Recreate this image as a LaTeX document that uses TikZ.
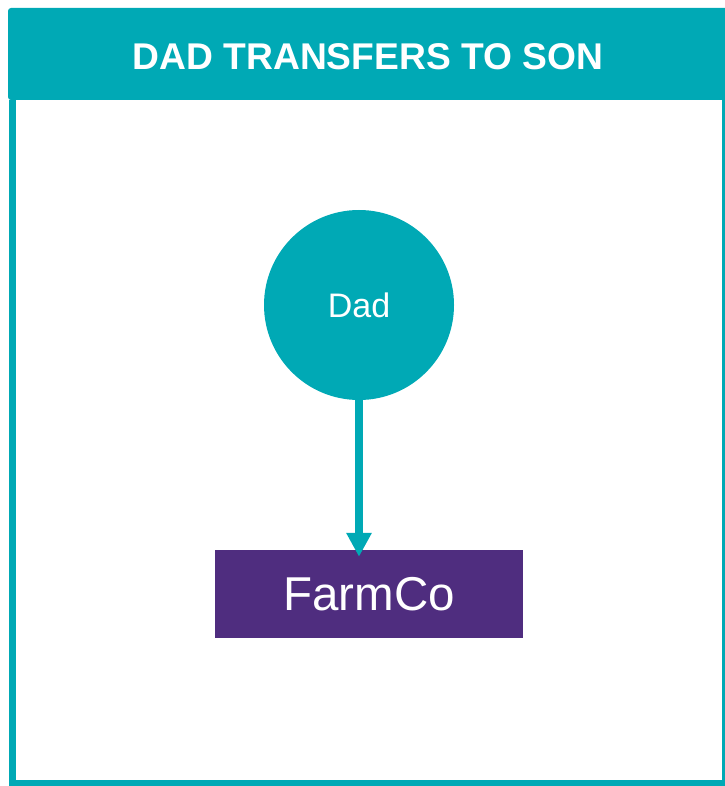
\documentclass[tikz,border=0pt]{standalone}
\usepackage{fontspec}
\usetikzlibrary{arrows.meta}
\setmainfont{Liberation Sans}
\definecolor{teal1}{HTML}{00A9B5}
\definecolor{purple1}{HTML}{4F2D7F}
\begin{document}
\begin{tikzpicture}[x=1pt,y=-1pt]
      \useasboundingbox (0,0) rectangle (724,786);
      \fill[teal1,rounded corners=3pt] (8,8) rectangle (730,100);
      \draw[teal1,line width=7pt] (12,100) -- (12,783) -- (725,783) -- (725,100);
      \node[text=white,font=\bfseries\fontsize{37.2}{40}\selectfont] (title) at (368,57) {DAD TRANSFERS TO SON};
      \node[circle,fill=teal1,minimum size=190pt,inner sep=0pt,text=white,font=\fontsize{34}{36}\selectfont] (dad) at (359,305) {Dad};
      \node[rectangle,fill=purple1,minimum width=308pt,minimum height=88pt,inner sep=0pt,text=white,font=\fontsize{47.5}{50}\selectfont] (farmco) at (369,594) {FarmCo};
      \begin{scope}[-]
        \draw[teal1,line width=8pt,shorten >=-7pt,-{Triangle[width=24pt,length=24pt]}] (dad) to (dad |- farmco.north);
      \end{scope}
    \end{tikzpicture}
\end{document}
